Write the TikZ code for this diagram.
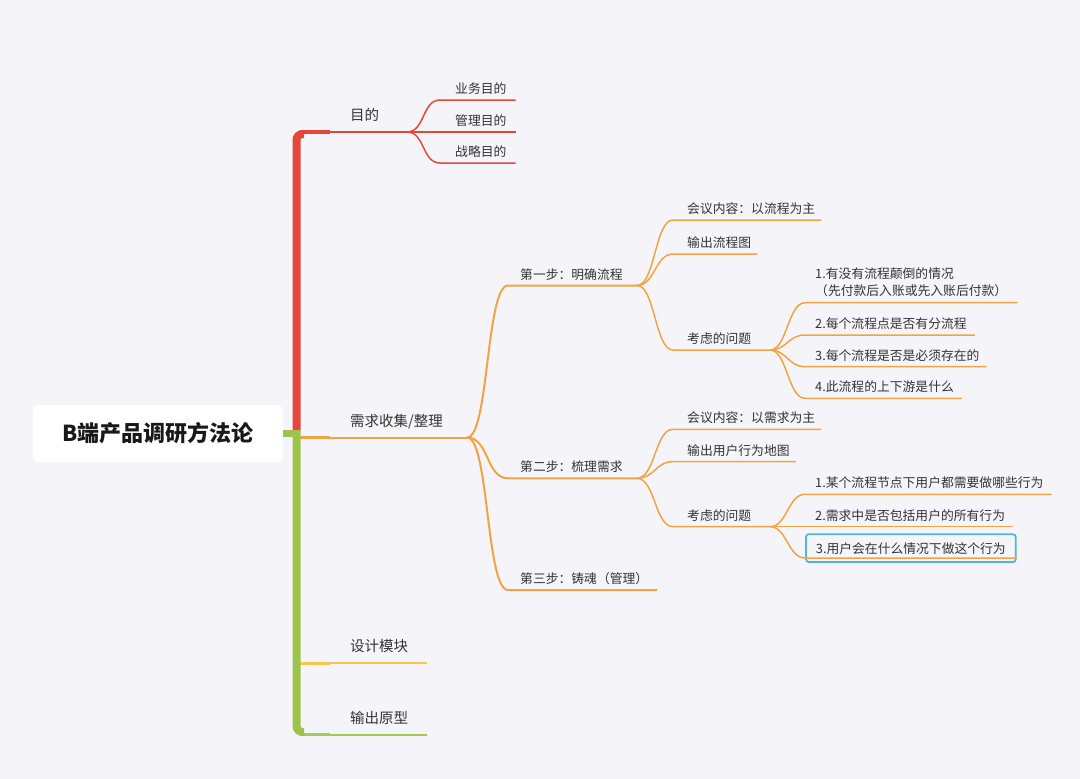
\documentclass[tikz,border=0pt]{standalone}
\usepackage{fontspec}
\setmainfont{Noto Sans CJK SC}
\usepackage{tikz}
\definecolor{bgGray}{HTML}{F5F5F9}
\definecolor{txtGray}{HTML}{333333}
\definecolor{cRed}{HTML}{E5473B}
\definecolor{cOrange}{HTML}{F2A444}
\definecolor{cGreen}{HTML}{9CC44C}
\definecolor{cYellow}{HTML}{F4C94E}
\definecolor{cLime}{HTML}{A6C95A}
\definecolor{cCyan}{HTML}{4DB9D6}

\begin{document}
\begin{tikzpicture}[x=1pt,y=-1pt,
		rootbox/.style={fill=white,rounded corners=5pt,minimum width=250pt,minimum height=57pt,
			font=\fontsize{22}{26}\selectfont\bfseries,text=black!90},
		major/.style={anchor=base west,inner sep=0pt,font=\fontsize{14.5}{17}\selectfont,text=txtGray},
		minor/.style={anchor=base west,inner sep=0pt,font=\fontsize{12.8}{17}\selectfont,text=txtGray},
		branch/.style={to path={.. controls +(#1,0) and +(-#1,0) .. (\tikztotarget)}},
		stem/.style={line width=2pt},
		twig/.style={line width=1.5pt}]
		\useasboundingbox[fill=bgGray] (0,0) rectangle (1080,779);
		%root
		\node[rootbox] (root) at (158,433.5) {B端产品调研方法论};
		\coordinate (hub) at (296.5,433.5);
		%main branches
		\coordinate (sA) at (300,132);
		\coordinate (sB) at (300,437.5);
		\coordinate (sC) at (300,663);
		\coordinate (sD) at (300,734.5);
		\coordinate (jA) at (407,132);
		\coordinate (jB) at (467,437.5);
		\coordinate (jC) at (427,663);
		\coordinate (jD) at (427,734.5);
		\draw[cRed,stem] (sA) -- (jA);
		\draw[cRed,line width=4pt] (sA) -- ++(30,0);
		\draw[cOrange,stem] (sB) -- (jB);
		\draw[cOrange,line width=3pt] (sB) -- ++(30,0);
		\draw[cYellow,stem] (sC) -- (jC);
		\draw[cYellow,line width=3pt] (sC) -- ++(30,0);
		\draw[cLime,stem] (sD) -- (jD);
		\draw[cLime,line width=3pt] (sD) -- ++(30,0);
		\node[major] (mudi) at (350,120) {目的};
		\node[major] (xuqiu) at (350,426) {需求收集/整理};
		\node[major] (sheji) at (350,651) {设计模块};
		\node[major] (yuanxing) at (350,723.5) {输出原型};
		%spine
		\draw[cGreen,line width=7pt] (root.east) -- (hub);
		\draw[cRed,line width=8pt,rounded corners=6pt] (296.5,431) |- (304,134);
		\draw[cGreen,line width=8pt,rounded corners=6pt] (296.5,430) |- (304,732);
		%目的
		\coordinate (uA1) at (440,100);
		\coordinate (uA2) at (440,132);
		\coordinate (uA3) at (440,163);
		\node[minor] (a1) at (455,93.5) {业务目的};
		\node[minor] (a2) at (455,125.5) {管理目的};
		\node[minor] (a3) at (455,156.5) {战略目的};
		\draw[cRed,twig] (jA) to[branch=18] (uA1) -- (uA1 -| a1.east) -- ++(9,0);
		\draw[cRed,twig] (jA) to[branch=18] (uA2) -- (uA2 -| a2.east) -- ++(9,0);
		\draw[cRed,twig] (jA) to[branch=18] (uA3) -- (uA3 -| a3.east) -- ++(9,0);
		%需求收集/整理
		\coordinate (uB1) at (508,285.5);
		\coordinate (uB2) at (508,478.3);
		\coordinate (uB3) at (508,590);
		\coordinate (jB1) at (637,285.5);
		\coordinate (jB2) at (637,478.3);
		\node[minor] (b1) at (520,279) {第一步：明确流程};
		\node[minor] (b2) at (520,471.8) {第二步：梳理需求};
		\node[minor] (b3) at (520,583.5) {第三步：铸魂（管理）};
		\draw[cOrange,stem] (jB) to[branch=22] (uB1) -- (jB1);
		\draw[cOrange,stem] (jB) to[branch=22] (uB2) -- (jB2);
		\draw[cOrange,stem] (jB) to[branch=22] (uB3) -- (uB3 -| b3.east) -- ++(9,0);
		%第一步
		\coordinate (uB11) at (673,220);
		\coordinate (uB12) at (673,254);
		\coordinate (uB13) at (673,350);
		\coordinate (jB13) at (770,350);
		\node[minor] (b11) at (687,213.5) {会议内容：以流程为主};
		\node[minor] (b12) at (687,247.5) {输出流程图};
		\node[minor] (b13) at (687,343.5) {考虑的问题};
		\draw[cOrange,twig] (jB1) to[branch=18] (uB11) -- (uB11 -| b11.east) -- ++(6,0);
		\draw[cOrange,twig] (jB1) to[branch=18] (uB12) -- (uB12 -| b12.east) -- ++(6,0);
		\draw[cOrange,twig] (jB1) to[branch=18] (uB13) -- (jB13);
		\coordinate (uB131) at (805,302.7);
		\coordinate (uB132) at (805,335);
		\coordinate (uB133) at (805,366.7);
		\coordinate (uB134) at (805,398.3);
		\node[minor,align=left] (b131) at (815,295.5) {1.有没有流程颠倒的情况\\（先付款后入账或先入账后付款）};
		\node[minor] (b132) at (815,328.5) {2.每个流程点是否有分流程};
		\node[minor] (b133) at (815,360.2) {3.每个流程是否是必须存在的};
		\node[minor] (b134) at (815,391.8) {4.此流程的上下游是什么};
		\draw[cOrange,twig] (jB13) to[branch=17] (uB131) -- (uB131 -| b131.east) -- ++(10,0);
		\draw[cOrange,twig] (jB13) to[branch=17] (uB132) -- (uB132 -| b132.east) -- ++(8,0);
		\draw[cOrange,twig] (jB13) to[branch=17] (uB133) -- (uB133 -| b133.east) -- ++(7,0);
		\draw[cOrange,twig] (jB13) to[branch=17] (uB134) -- (uB134 -| b134.east) -- ++(8,0);
		%第二步
		\coordinate (uB21) at (673,429.3);
		\coordinate (uB22) at (673,461.7);
		\coordinate (uB23) at (673,526.7);
		\coordinate (jB23) at (770,526.7);
		\node[minor] (b21) at (687,422.8) {会议内容：以需求为主};
		\node[minor] (b22) at (687,455.2) {输出用户行为地图};
		\node[minor] (b23) at (687,520.2) {考虑的问题};
		\draw[cOrange,twig] (jB2) to[branch=18] (uB21) -- (uB21 -| b21.east) -- ++(6,0);
		\draw[cOrange,twig] (jB2) to[branch=18] (uB22) -- (uB22 -| b22.east) -- ++(6,0);
		\draw[cOrange,twig] (jB2) to[branch=18] (uB23) -- (jB23);
		\coordinate (uB231) at (805,494.3);
		\coordinate (uB232) at (805,526.7);
		\coordinate (uB233) at (805,558);
		\node[minor] (b231) at (815,487.8) {1.某个流程节点下用户都需要做哪些行为};
		\node[minor] (b232) at (815,520.2) {2.需求中是否包括用户的所有行为};
		\draw[cOrange,twig] (jB23) to[branch=17] (uB231) -- (uB231 -| b231.east) -- ++(8,0);
		\draw[cOrange,twig] (jB23) to[branch=17] (uB232) -- (uB232 -| b232.east) -- ++(8,0);
		{
			\tikzset{minor/.append style={draw=cCyan,line width=1.8pt,rounded corners=3pt,inner xsep=10pt,inner ysep=8pt}}
			\node[minor] (b233) at (805,553) {3.用户会在什么情况下做这个行为};
		}
		\draw[cOrange,twig] (jB23) to[branch=17] (uB233) -- (uB233 -| b233.east);
	\end{tikzpicture}
\end{document}
